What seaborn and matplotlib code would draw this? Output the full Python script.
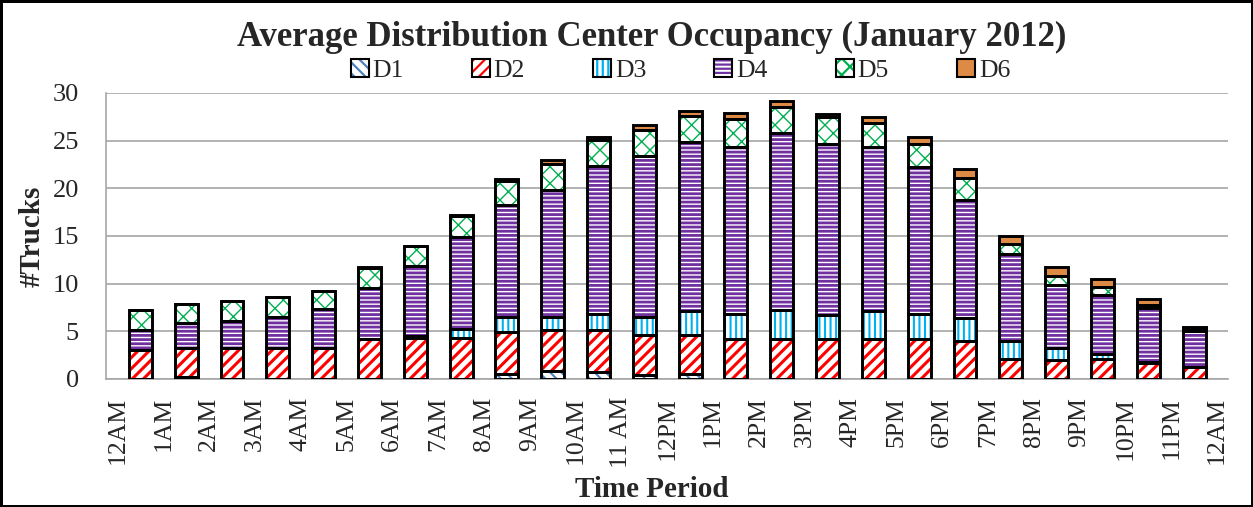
import numpy as np
import pandas as pd
import matplotlib
matplotlib.use("Agg")
import matplotlib.pyplot as plt
import seaborn as sns
from matplotlib.patches import Patch
from matplotlib.legend_handler import HandlerTuple

# one bar per hour, labels sit on the hour boundaries
hours = ["12AM", "1AM", "2AM", "3AM", "4AM", "5AM", "6AM", "7AM", "8AM", "9AM", "10AM", "11AM",
         "12PM", "1PM", "2PM", "3PM", "4PM", "5PM", "6PM", "7PM", "8PM", "9PM", "10PM", "11PM"]
tick_labels = ["12AM", "1AM", "2AM", "3AM", "4AM", "5AM", "6AM", "7AM", "8AM", "9AM", "10AM", "11 AM",
               "12PM", "1PM", "2PM", "3PM", "4PM", "5PM", "6PM", "7PM", "8PM", "9PM", "10PM", "11PM", "12AM"]

d1 = [0, 0.2, 0, 0, 0, 0, 0, 0, 0.5, 0.8, 0.75, 0.45, 0.5, 0, 0, 0, 0, 0, 0, 0, 0, 0, 0, 0]
d2 = [3.0, 3.05, 3.25, 3.25, 3.25, 4.2, 4.3, 4.3, 4.4, 4.3, 4.35, 4.2,
      4.15, 4.2, 4.2, 4.2, 4.2, 4.15, 3.95, 2.05, 1.95, 2.05, 1.7, 1.25]
d3 = [0, 0, 0, 0, 0, 0, 0.25, 0.95, 1.6, 1.4, 1.7, 1.85,
      2.45, 2.65, 3.05, 2.55, 2.9, 2.65, 2.45, 1.9, 1.3, 0.55, 0.1, 0]
d4 = [2.15, 2.6, 2.85, 3.25, 4.05, 5.3, 7.35, 9.65, 11.7, 13.35, 15.5, 16.9,
      17.8, 17.5, 18.55, 17.9, 17.25, 15.4, 12.4, 9.2, 6.65, 6.25, 5.65, 3.75]
d5 = [2.05, 2.05, 2.05, 2.1, 1.95, 2.15, 2.0, 2.15, 2.6, 2.7, 2.8, 2.7,
      2.65, 2.9, 2.7, 2.8, 2.55, 2.45, 2.25, 1.05, 0.9, 0.8, 0.35, 0.3]
d6 = [0, 0, 0, 0, 0, 0.05, 0.05, 0.1, 0.2, 0.4, 0.3, 0.5,
      0.6, 0.7, 0.7, 0.35, 0.6, 0.7, 0.95, 0.75, 0.95, 0.8, 0.55, 0.15]

series = ["D1", "D2", "D3", "D4", "D5", "D6"]
df = pd.DataFrame({"hour": hours, "D1": d1, "D2": d2, "D3": d3, "D4": d4, "D5": d5, "D6": d6})

# (face, hatch colour, hatch, hatch width)
styles = {
    "D1": ("white", "#4F81BD", "\\\\\\", 1.5),
    "D2": ("white", "#FF0000", "///", 2.2),
    "D3": ("white", "#00B0F0", "|||", 1.5),
    "D4": ("white", "#7030A0", "----", 2.0),
    "D5": ("white", "#00B050", "xx", 1.0),
    "D6": ("#DD8A44", "#DD8A44", None, 1.0),
}

sns.set_style("white")
plt.rcParams["font.family"] = ["Liberation Serif", "DejaVu Serif"]
plt.rcParams["hatch.linewidth"] = 1.6

fig = plt.figure(figsize=(12.53, 5.07), dpi=100)
fig.patch.set_edgecolor("black")
fig.patch.set_linewidth(2.5)
ax = fig.add_axes([0.0846, 0.2525, 0.8958, 0.5641])

bottom = np.zeros(len(hours))
for name in series:
    fc, hc, ht, hlw = styles[name]
    n0 = len(ax.patches)
    sns.barplot(data=df, x="hour", y=name, order=hours, ax=ax, width=0.5, bottom=bottom,
                color=hc, saturation=1, facecolor=fc, edgecolor=hc, hatch=ht, linewidth=0,
                errorbar=None, zorder=2)
    for p in ax.patches[n0:]:
        if hasattr(p, "set_hatch_linewidth"):
            p.set_hatch_linewidth(hlw)
    sns.barplot(data=df, x="hour", y=name, order=hours, ax=ax, width=0.5, bottom=bottom,
                color="black", saturation=1, facecolor="none", edgecolor="black", linewidth=2.1,
                errorbar=None, zorder=3)
    bottom = bottom + df[name].values

# axes styling
ax.set_ylim(0, 30)
ax.set_yticks(range(0, 31, 5))
ax.set_xlim(-0.75, 23.75)
ax.set_xticks(np.arange(25) - 0.5)
ax.set_xticklabels(tick_labels, rotation=90, fontsize=18.5)
ax.set_xticks(np.arange(50) * 0.5 - 0.75, minor=True)
ax.tick_params(axis="x", which="major", length=0, pad=13)
ax.tick_params(axis="x", which="minor", length=4, width=1, color="#A6A6A6", direction="out")
ax.tick_params(axis="y", length=6.5, width=1.1, color="#A6A6A6", direction="out", pad=13, labelsize=19)
ax.yaxis.grid(True, color="#A6A6A6", linewidth=1.2, zorder=0)
ax.xaxis.grid(False)
ax.set_axisbelow(True)
for s in ["top", "right"]:
    ax.spines[s].set_visible(False)
for s in ["left", "bottom"]:
    ax.spines[s].set_color("#A6A6A6")
    ax.spines[s].set_linewidth(1.2)

ax.set_ylabel("#Trucks", fontsize=21, fontweight="bold")
ax.yaxis.set_label_coords(-0.054, 0.5)
ax.set_xlabel("Time Period", fontsize=21, fontweight="bold")
ax.xaxis.set_label_coords(0.486, -0.34)

fig.text(0.52, 0.926, "Average Distribution Center Occupancy (January 2012)",
         ha="center", va="center", fontsize=25, fontweight="bold")

handles = []
for name in series:
    fc, hc, ht, hlw = styles[name]
    handles.append((Patch(facecolor=fc, edgecolor=hc, hatch=ht, linewidth=0),
                    Patch(facecolor="none", edgecolor="black", linewidth=1.5)))
fig.legend(handles, series, handler_map={tuple: HandlerTuple(ndivide=1, pad=0)},
           loc="center", bbox_to_anchor=(0.543, 0.86), ncol=6, frameon=False,
           fontsize=18.5, handlelength=0.7, handleheight=0.7, handletextpad=0.15,
           columnspacing=2.65, borderpad=0)

fig.savefig("out.png", dpi=100)
